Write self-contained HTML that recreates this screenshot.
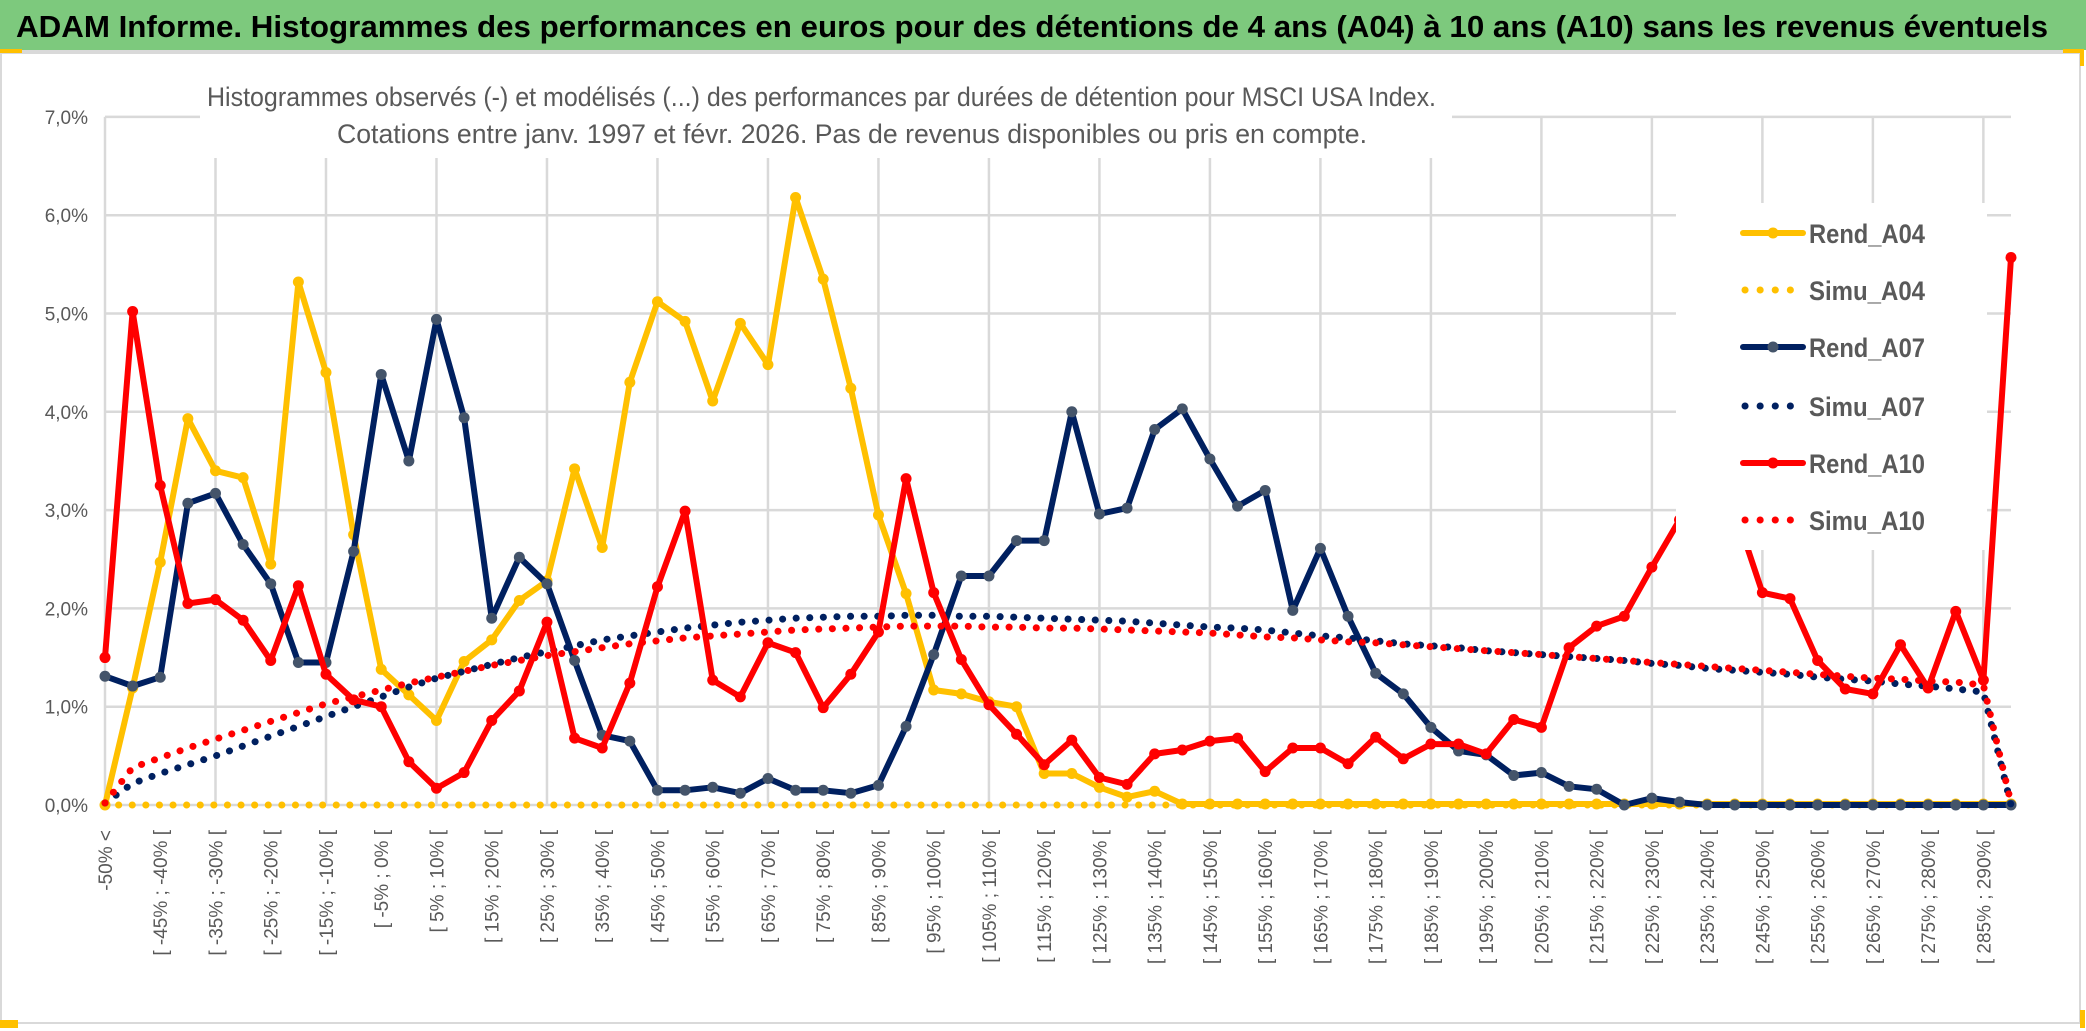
<!DOCTYPE html>
<html><head><meta charset="utf-8"><title>ADAM Informe</title>
<style>html,body{margin:0;padding:0;background:#fff;}svg{display:block;}</style></head>
<body>
<svg id="chart" xmlns="http://www.w3.org/2000/svg" width="2086" height="1031" viewBox="0 0 2086 1031" font-family="'Liberation Sans', sans-serif">
<rect x="0" y="0" width="2086" height="1031" fill="#ffffff"/>
<rect x="0" y="0" width="2086" height="50" fill="#7DC97D"/>
<line x1="0" y1="51.5" x2="2080" y2="51.5" stroke="#d9d9d9" stroke-width="3"/>
<text x="16" y="37" font-size="31" font-weight="bold" fill="#000" textLength="2032" lengthAdjust="spacingAndGlyphs">ADAM Informe. Histogrammes des performances en euros pour des détentions de 4 ans (A04) à 10 ans (A10) sans les revenus éventuels</text>
<rect x="1" y="53" width="2079" height="970" fill="none" stroke="#d9d9d9" stroke-width="2"/>
<rect x="0" y="49" width="22" height="4" fill="#FFC000"/>
<rect x="2063" y="49" width="20" height="4" fill="#FFC000"/>
<rect x="2080" y="49" width="4" height="17" fill="#FFC000"/>
<rect x="0" y="1020" width="18" height="8" fill="#FFC000"/>
<rect x="2080" y="1010" width="5" height="18" fill="#FFC000"/>
<g id="grid"></g>
<g id="axes"></g>
<g id="series"></g>
<rect x="200" y="76" width="1252" height="82" fill="#fff"/>
<text x="207" y="106" font-size="27" fill="#595959" textLength="1229" lengthAdjust="spacingAndGlyphs">Histogrammes observés (-) et modélisés (...) des performances par durées de détention pour MSCI USA Index.</text>
<text x="337" y="143" font-size="27" fill="#595959" textLength="1030" lengthAdjust="spacingAndGlyphs">Cotations entre janv. 1997 et févr. 2026. Pas de revenus disponibles ou pris en compte.</text>
<g id="legend"></g>
</svg>
<script>
const seriesNames = ["Rend_A04","Simu_A04","Rend_A07","Simu_A07","Rend_A10","Simu_A10"];
const yTicks = [0,1,2,3,4,5,6,7];
const yTickLabels = ["0,0%","1,0%","2,0%","3,0%","4,0%","5,0%","6,0%","7,0%"];
const rendA04 = [0.0,1.19,2.47,3.93,3.4,3.33,2.45,5.32,4.4,2.75,1.38,1.12,0.86,1.46,1.68,2.08,2.28,3.42,2.62,4.3,5.12,4.92,4.11,4.9,4.48,6.18,5.35,4.24,2.95,2.15,1.17,1.13,1.05,1.0,0.32,0.32,0.18,0.08,0.14,0.01,0.01,0.01,0.01,0.01,0.01,0.01,0.01,0.01,0.01,0.01,0.01,0.01,0.01,0.01,0.01,0.01,0.01,0.01,0.01,0.01,0.01,0.01,0.01,0.01,0.01,0.01,0.01,0.01,0.01,0.01];
const simuA04 = [0,0,0,0,0,0,0,0,0,0,0,0,0,0,0,0,0,0,0,0,0,0,0,0,0,0,0,0,0,0,0,0,0,0,0,0,0,0,0,0,0,0,0,0,0,0,0,0,0,0,0,0,0,0,0,0,0,0,0,0,0,0,0,0,0,0,0,0,0,0];
const rendA07 = [1.31,1.21,1.3,3.07,3.17,2.65,2.25,1.45,1.45,2.58,4.38,3.5,4.94,3.94,1.9,2.52,2.25,1.47,0.71,0.65,0.15,0.15,0.18,0.12,0.27,0.15,0.15,0.12,0.2,0.8,1.53,2.33,2.33,2.69,2.69,4.0,2.96,3.02,3.82,4.03,3.52,3.04,3.2,1.98,2.61,1.92,1.34,1.13,0.79,0.55,0.51,0.3,0.33,0.19,0.16,0.0,0.07,0.03,0,0,0,0,0,0,0,0,0,0,0,0];
const simuA07 = [0.02,0.22,0.32,0.41,0.5,0.6,0.7,0.8,0.9,1.0,1.1,1.2,1.29,1.36,1.43,1.5,1.56,1.62,1.68,1.72,1.76,1.8,1.83,1.86,1.88,1.9,1.91,1.92,1.92,1.93,1.93,1.92,1.92,1.91,1.9,1.89,1.88,1.87,1.85,1.83,1.81,1.8,1.78,1.75,1.72,1.7,1.67,1.64,1.62,1.6,1.57,1.55,1.53,1.51,1.49,1.47,1.44,1.42,1.39,1.37,1.35,1.33,1.3,1.28,1.26,1.23,1.21,1.18,1.15,0.0];
const rendA10 = [1.5,5.02,3.25,2.05,2.09,1.88,1.47,2.23,1.33,1.07,1.0,0.44,0.17,0.33,0.86,1.16,1.86,0.68,0.58,1.24,2.22,2.99,1.27,1.1,1.65,1.55,0.99,1.33,1.76,3.32,2.16,1.48,1.02,0.72,0.41,0.66,0.28,0.21,0.52,0.56,0.65,0.68,0.34,0.58,0.58,0.42,0.69,0.47,0.62,0.62,0.52,0.87,0.79,1.6,1.82,1.92,2.42,2.9,3.1,3.0,2.16,2.1,1.47,1.18,1.13,1.63,1.19,1.97,1.27,5.57];
const simuA10 = [0.02,0.38,0.48,0.58,0.67,0.76,0.85,0.94,1.03,1.1,1.17,1.24,1.3,1.36,1.42,1.47,1.52,1.56,1.6,1.64,1.67,1.7,1.72,1.74,1.76,1.78,1.79,1.8,1.81,1.82,1.82,1.82,1.81,1.81,1.8,1.8,1.79,1.78,1.77,1.76,1.75,1.73,1.71,1.7,1.68,1.66,1.65,1.63,1.61,1.59,1.57,1.55,1.53,1.51,1.49,1.47,1.45,1.43,1.41,1.39,1.37,1.35,1.33,1.31,1.29,1.28,1.26,1.25,1.22,0.02];
const categories = (function(){const c=["-50% <"];for(let k=1;k<70;k++){const lo=-50+5*(k-1);c.push("[ "+lo+"% ; "+(lo+5)+"% [");}return c;})();

const NS="http://www.w3.org/2000/svg";
const X0=105, X1=2011, Y0=805, YPER=98.3;
function xPos(i){return X0+(X1-X0)*i/(categories.length-1);}
function yPos(v){return Y0-v*YPER;}
function mk(tag,attrs,parent){const e=document.createElementNS(NS,tag);for(const k in attrs)e.setAttribute(k,attrs[k]);parent.appendChild(e);return e;}

const grid=document.getElementById('grid');
for(const t of yTicks){
  const l=mk('line',{x1:X0,x2:X1,y1:yPos(t),y2:yPos(t),stroke:'#d9d9d9','stroke-width':2.5},grid);
  
  
}
for(let i=0;i<categories.length;i+=4){
  const l=mk('line',{x1:xPos(i),x2:xPos(i),y1:yPos(7),y2:Y0,stroke:'#d9d9d9','stroke-width':2.5},grid);
  
  
}
const axes=document.getElementById('axes');
yTicks.forEach((t,k)=>{
  const tx=mk('text',{x:88,y:yPos(t)+7,'text-anchor':'end','font-size':19,fill:'#595959'},axes);
  tx.textContent=yTickLabels[k];
  
  
});
for(let i=0;i<categories.length;i+=2){
  const x=xPos(i)+7, y=830;
  const tx=mk('text',{x:x,y:y,'text-anchor':'end','font-size':19,fill:'#595959',transform:'rotate(-90 '+x+' '+y+')'},axes);
  tx.textContent=categories[i];
  
  
}

const series=document.getElementById('series');
const styles=[
 {data:rendA04,color:'#FFC000',marker:'#FFC000',solid:true},
 {data:simuA04,color:'#FFC000',solid:false},
 {data:rendA07,color:'#002060',marker:'#44546A',solid:true},
 {data:simuA07,color:'#002060',solid:false},
 {data:rendA10,color:'#FF0000',marker:'#FF0000',solid:true},
 {data:simuA10,color:'#FF0000',solid:false}
];
styles.forEach((s,si)=>{
  const pts=s.data.map((v,i)=>xPos(i).toFixed(1)+','+yPos(v).toFixed(1)).join(' ');
  const g=mk('g',{},series);
  
  
  const attrs={points:pts,fill:'none',stroke:s.color,'stroke-linejoin':'round','stroke-linecap':'round'};
  if(s.solid){attrs['stroke-width']=6;}else{attrs['stroke-width']=7;attrs['stroke-dasharray']='0.1 13.5';}
  const pl=mk('polyline',attrs,g);
  
  
  if(s.solid){
    s.data.forEach((v,i)=>{
      const c=mk('circle',{cx:xPos(i),cy:yPos(v),r:5.5,fill:s.marker},g);
      
      
    });
  }
});

const legend=document.getElementById('legend');
mk('rect',{x:1676,y:203,width:311,height:347,fill:'#fff'},legend);
const legendY=[233,290,347,406,463,520];
styles.forEach((s,si)=>{
  const y=legendY[si];
  const g=mk('g',{},legend);
  
  
  if(s.solid){
    mk('line',{x1:1743,x2:1803,y1:y,y2:y,stroke:s.color,'stroke-width':6,'stroke-linecap':'round'},g);
    mk('circle',{cx:1773,cy:y,r:5.5,fill:s.marker},g);
  } else {
    mk('line',{x1:1745,x2:1805,y1:y,y2:y,stroke:s.color,'stroke-width':7,'stroke-linecap':'round','stroke-dasharray':'0.1 15'},g);
  }
  const t=mk('text',{x:1809,y:y+10,'font-size':27,'font-weight':'bold',fill:'#595959',textLength:116,lengthAdjust:'spacingAndGlyphs'},g);
  t.textContent=seriesNames[si];
});
</script>
</body></html>
